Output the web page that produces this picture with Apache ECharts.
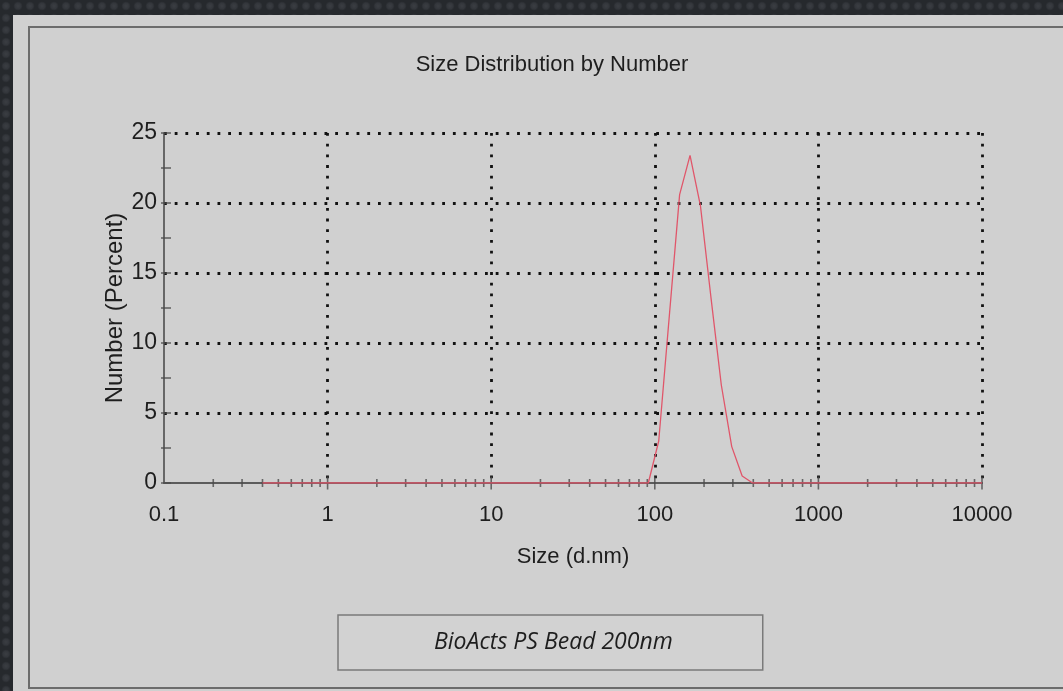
<!DOCTYPE html>
<html>
<head>
<meta charset="utf-8">
<script src="https://cdn.jsdelivr.net/npm/echarts@6/dist/echarts.min.js"></script>
<style>
    html, body { margin: 0; padding: 0; }
    body {
        width: 1063px; height: 691px; overflow: hidden; position: relative;
        background: radial-gradient(circle at 50% 50%, #3b3e43 0, #33363b 35%, #26292d 55%) 0 0 / 12px 12px, #2a2d31;
    }
    .panel { position: absolute; left: 13px; top: 15px; width: 1060px; height: 690px; background: #d0d0d0; }
    .frame { position: absolute; left: 28px; top: 26px; width: 1060px; height: 659px; border: 2px solid #6c6c6c; }
    #main { position: absolute; left: 0; top: 0; width: 1063px; height: 691px; }
</style>
</head>
<body>
<div class="panel"></div>
<div class="frame"></div>
<div id="main"></div>
<script>
    // size bins (d.nm) and number %
    var sizes   = [0.4, 91.28, 105.7, 122.4, 141.8, 164.2, 190.1, 220.2, 255.0, 295.3, 342.0, 396.1, 10000];
    var numbers = [0,   0,     3.0,   11.8,  20.6,  23.4,  19.8,  13.3,  7.0,   2.6,   0.5,   0,     0];

    // axis tick marks (they cross the axis lines in the original)
    var xMajorTicks = [1, 10, 100, 1000, 10000];
    var xMinorTicks = [0.2, 0.3, 0.4, 0.5, 0.6, 0.7, 0.8, 0.9,
                       2, 3, 4, 5, 6, 7, 8, 9,
                       20, 30, 40, 50, 60, 70, 80, 90,
                       200, 300, 400, 500, 600, 700, 800, 900,
                       2000, 3000, 4000, 5000, 6000, 7000, 8000, 9000];
    var yMajorTicks = [0, 5, 10, 15, 20, 25];
    var yMinorTicks = [2.5, 7.5, 12.5, 17.5, 22.5];

    var seriesName = 'BioActs PS Bead 200nm';
    var font = '"Liberation Sans", Arial, sans-serif';

    var tickSeries = function (data, size, offset) {
        return {
            type: 'scatter',
            silent: true,
            symbol: 'rect',
            symbolSize: size,
            symbolOffset: offset || [0, 0],
            itemStyle: { color: '#4a4a4a' },
            data: data,
            z: 3
        }
    }

    var myChart = echarts.init(document.getElementById('main'));
    myChart.setOption({
        backgroundColor: 'transparent',
        animation: false,
        title: {
            text: 'Size Distribution by Number',
            left: 552,
            top: 54,
            padding: 0,
            textAlign: 'center',
            textStyle: { fontFamily: font, fontSize: 22, fontWeight: 'normal', color: '#1e1e1e' }
        },
        legend: {
            data: [seriesName],
            left: 338,
            top: 615,
            padding: [16, 90],
            itemWidth: 0,
            itemHeight: 0,
            itemStyle: { opacity: 0 },
            lineStyle: { opacity: 0 },
            borderColor: '#7a7a7a',
            borderWidth: 1.5,
            backgroundColor: '#d2d2d2',
            textStyle: { fontFamily: '"Open Sans", "Noto Sans", sans-serif', fontStyle: 'italic', fontSize: 23, color: '#1e1e1e' }
        },
        grid: { left: 164, right: 81, top: 133, bottom: 208 },
        xAxis: {
            type: 'log',
            logBase: 10,
            min: 0.1,
            max: 10000,
            name: 'Size (d.nm)',
            nameLocation: 'middle',
            nameGap: 63,
            nameMoveOverlap: false,
            nameTextStyle: { fontFamily: font, fontSize: 22, color: '#1e1e1e' },
            axisLine: { lineStyle: { color: '#5c5c5c', width: 2 } },
            axisTick: { show: false },
            axisLabel: {
                margin: 21,
                fontFamily: font,
                fontSize: 22,
                color: '#1e1e1e',
                formatter: function (v) { return String(+(+v).toPrecision(6)) }
            },
            splitLine: {
                show: true,
                showMinLine: false,
                lineStyle: { color: '#111', width: 2.8, type: [2.8, 7.9] }
            }
        },
        yAxis: {
            type: 'value',
            min: 0,
            max: 25,
            interval: 5,
            name: 'Number (Percent)',
            nameLocation: 'middle',
            nameGap: 37,
            nameMoveOverlap: false,
            nameTextStyle: { fontFamily: font, fontSize: 24, color: '#1e1e1e' },
            axisLine: { show: true, lineStyle: { color: '#444', width: 1.5 } },
            axisTick: { show: false },
            axisLabel: { margin: 7, fontFamily: font, fontSize: 23, color: '#1e1e1e' },
            splitLine: {
                show: true,
                showMinLine: false,
                lineStyle: { color: '#111', width: 2.8, type: [2.8, 7.9] }
            }
        },
        series: [
            {
                name: seriesName,
                type: 'line',
                showSymbol: false,
                symbol: 'none',
                lineStyle: { color: '#e0566a', width: 1.3 },
                itemStyle: { color: '#e0566a' },
                data: sizes.map(function (s, i) { return [s, numbers[i]] }),
                z: 4
            },
            tickSeries(xMajorTicks.map(function (v) { return [v, 0] }), [1.6, 13]),
            tickSeries(xMinorTicks.map(function (v) { return [v, 0] }), [1.6, 8]),
            tickSeries(yMajorTicks.map(function (v) { return [0.1, v] }), [10, 1.6], [2, 0]),
            tickSeries(yMinorTicks.map(function (v) { return [0.1, v] }), [10, 1.6], [2, 0])
        ]
    });
</script>
</body>
</html>
